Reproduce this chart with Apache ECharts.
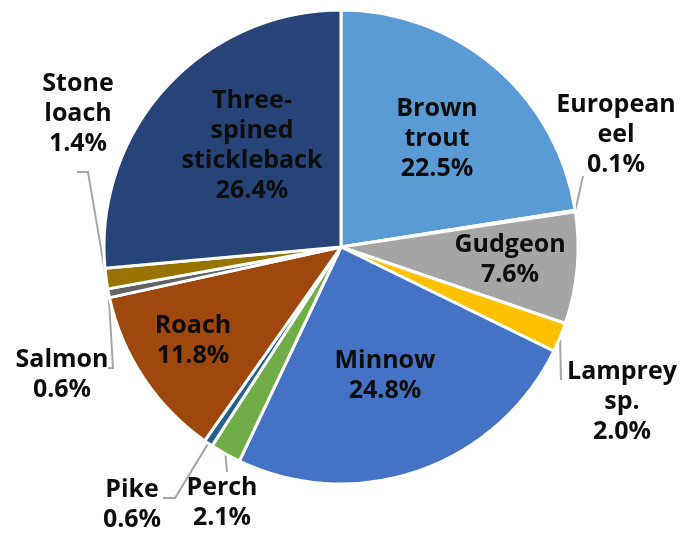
<!DOCTYPE html>
<html><head><meta charset="utf-8">
<script src="https://cdn.jsdelivr.net/npm/echarts@6/dist/echarts.min.js"></script>
<style>html,body{margin:0;padding:0;background:#fff}#c{width:693px;height:534px}</style>
</head><body><div id="c"></div>
<script>
const categories = ['Brown trout','European eel','Gudgeon','Lamprey sp.','Minnow','Perch','Pike','Roach','Salmon','Stone loach','Three-spined stickleback'];
const labelTexts = ['Brown\ntrout','European\neel','Gudgeon','Lamprey\nsp.','Minnow','Perch','Pike','Roach','Salmon','Stone\nloach','Three-\nspined\nstickleback'];
const values = [22.5,0.1,7.6,2.0,24.8,2.1,0.6,11.8,0.6,1.4,26.4];
const colors = ['#5B9BD5','#ED7D31','#A5A5A5','#FFC000','#4472C4','#70AD47','#255E91','#9E480E','#636363','#997300','#264478'];

// label block centres and leader-line bend points (after the sector edge point)
const labelPos = [
  {x:437, y:139},
  {x:616, y:135, line:[[583,176]]},
  {x:510, y:260},
  {x:622, y:402, line:[[561,380]]},
  {x:385, y:376},
  {x:222, y:503, line:[[227,472]]},
  {x:132, y:505, line:[[175,498],[163,498]]},
  {x:193, y:341},
  {x:62,  y:375, line:[[113,368],[108,368]]},
  {x:78,  y:114, line:[[88,172],[77,172]]},
  {x:252, y:146}
];

const data = categories.map((name, i) => ({
  name: name,
  value: values[i],
  itemStyle: {color: colors[i]},
  labelLine: {show: !!labelPos[i].line}
}));

const chart = echarts.init(document.getElementById('c'), null, {renderer: 'canvas'});
chart.setOption({
  animation: false,
  backgroundColor: '#ffffff',
  series: [{
    type: 'pie',
    center: [341, 247],
    radius: 237,
    startAngle: 90,
    clockwise: true,
    avoidLabelOverlap: false,
    data: data,
    itemStyle: {borderColor: '#ffffff', borderWidth: 3},
    emphasis: {disabled: true},
    label: {
      show: true,
      position: 'outside',
      formatter: p => labelTexts[p.dataIndex] + '\n' + values[p.dataIndex].toFixed(1) + '%',
      color: '#0d0d0d',
      fontFamily: 'Open Sans',
      fontWeight: 'bold',
      fontSize: 25,
      lineHeight: 30,
      align: 'center'
    },
    labelLine: {
      show: true,
      lineStyle: {color: '#A6A6A6', width: 2}
    },
    labelLayout: function (params) {
      const p = labelPos[params.dataIndex];
      const res = {x: p.x, y: p.y, align: 'center', verticalAlign: 'middle'};
      if (p.line && params.labelLinePoints) {
        res.labelLinePoints = [params.labelLinePoints[0]].concat(p.line);
      }
      return res;
    }
  }]
});
</script>
</body></html>
